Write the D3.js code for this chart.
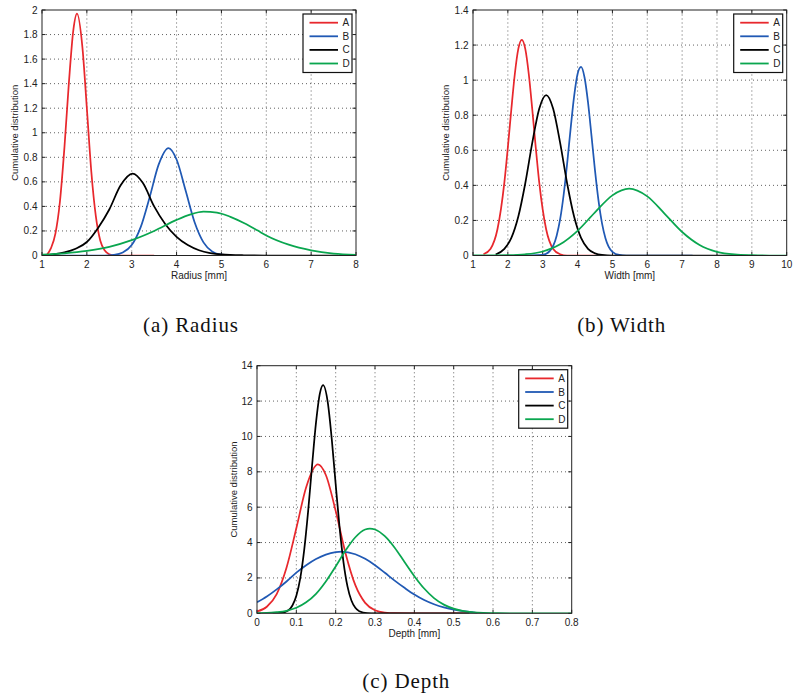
<!DOCTYPE html>
<html><head><meta charset="utf-8">
<script src="https://cdn.jsdelivr.net/npm/d3@7"></script>
<style>body{margin:0;background:#fff}svg{display:block}</style>
</head><body>
<svg id="chart" width="798" height="697"></svg>
<script>
// ---------- shared ----------
const seriesNames = ["A", "B", "C", "D"];
const seriesColors = ["#e8282d", "#2059b4", "#000000", "#0aa64f"];

// ---------- (a) Radius ----------
const radiusXTicks = [1, 2, 3, 4, 5, 6, 7, 8];
const radiusYTicks = [0, 0.2, 0.4, 0.6, 0.8, 1, 1.2, 1.4, 1.6, 1.8, 2];
const radiusA = [[1.1,0],[1.2,0.06],[1.3,0.18],[1.4,0.44],[1.5,0.88],[1.6,1.41],[1.7,1.84],[1.78,1.97],[1.9,1.70],[2.0,1.20],[2.1,0.68],[2.2,0.32],[2.3,0.12],[2.4,0.04],[2.5,0.01],[2.6,0],[3.5,0]];
const radiusB = [[1.0,0],[2.4,0],[2.6,0.005],[2.8,0.024],[3.0,0.085],[3.2,0.231],[3.4,0.475],[3.6,0.74],[3.82,0.875],[4.0,0.782],[4.2,0.531],[4.4,0.273],[4.6,0.107],[4.8,0.031],[5.0,0.007],[5.2,0.001],[5.25,0]];
const radiusC = [[1.0,0.003],[1.25,0.01],[1.5,0.025],[1.75,0.055],[2.0,0.11],[2.25,0.225],[2.5,0.375],[2.75,0.57],[3.02,0.667],[3.25,0.59],[3.5,0.4],[3.75,0.255],[4.0,0.152],[4.25,0.085],[4.5,0.043],[4.75,0.02],[5.0,0.009],[5.5,0.002],[6.0,0],[7.6,0]];
const radiusD = [[1.0,0.008],[1.5,0.018],[2.0,0.037],[2.5,0.07],[3.0,0.125],[3.5,0.2],[4.0,0.29],[4.3,0.333],[4.6,0.357],[4.9,0.35],[5.2,0.315],[5.5,0.265],[5.8,0.205],[6.0,0.163],[6.5,0.088],[7.0,0.042],[7.5,0.016],[8.0,0.005]];

// ---------- (b) Width ----------
const widthXTicks = [1, 2, 3, 4, 5, 6, 7, 8, 9, 10];
const widthYTicks = [0, 0.2, 0.4, 0.6, 0.8, 1, 1.2, 1.4];
const widthA = [[1.3,0.007],[1.5,0.037],[1.7,0.148],[1.9,0.417],[2.0,0.617],[2.1,0.834],[2.2,1.035],[2.3,1.178],[2.4,1.23],[2.5,1.178],[2.6,1.035],[2.7,0.834],[2.8,0.617],[2.9,0.417],[3.1,0.148],[3.3,0.037],[3.5,0.007],[3.7,0],[4.5,0]];
const widthB = [[2.2,0],[3.0,0.004],[3.2,0.025],[3.4,0.113],[3.5,0.207],[3.6,0.345],[3.7,0.523],[3.8,0.722],[3.9,0.906],[4.0,1.035],[4.1,1.075],[4.2,1.015],[4.3,0.873],[4.4,0.682],[4.5,0.485],[4.6,0.314],[4.7,0.185],[4.8,0.099],[5.0,0.021],[5.2,0.003],[5.4,0],[7.3,0]];
const widthC = [[1.65,0.006],[1.9,0.038],[2.1,0.1],[2.3,0.222],[2.5,0.412],[2.7,0.642],[2.9,0.837],[3.1,0.915],[3.3,0.837],[3.5,0.642],[3.7,0.412],[3.9,0.222],[4.1,0.1],[4.3,0.038],[4.5,0.012],[4.7,0.003],[5.0,0],[8.5,0]];
const widthD = [[1.0,0],[2.0,0.002],[2.5,0.007],[3.0,0.023],[3.5,0.064],[4.0,0.141],[4.5,0.246],[5.0,0.343],[5.48,0.381],[6.0,0.337],[6.5,0.238],[7.0,0.134],[7.5,0.06],[8.0,0.021],[8.5,0.006],[9.0,0.0015],[9.5,0],[10,0]];

// ---------- (c) Depth ----------
const depthXTicks = [0, 0.1, 0.2, 0.3, 0.4, 0.5, 0.6, 0.7, 0.8];
const depthYTicks = [0, 2, 4, 6, 8, 10, 12, 14];
const depthA = [[0,0.1],[0.025,0.37],[0.05,1.09],[0.075,2.58],[0.1,4.81],[0.125,7.13],[0.155,8.42],[0.175,7.82],[0.2,5.79],[0.225,3.4],[0.25,1.59],[0.275,0.59],[0.3,0.17],[0.325,0.04],[0.35,0.007],[0.4,0],[0.54,0]];
const depthB = [[0,0.62],[0.025,0.95],[0.05,1.35],[0.075,1.8],[0.1,2.3],[0.125,2.72],[0.15,3.07],[0.175,3.32],[0.2,3.46],[0.215,3.49],[0.25,3.34],[0.275,3.08],[0.3,2.72],[0.325,2.29],[0.35,1.85],[0.375,1.44],[0.4,1.06],[0.425,0.75],[0.45,0.51],[0.475,0.33],[0.5,0.21],[0.525,0.12],[0.55,0.05],[0.56,0]];
const depthC = [[0.04,0],[0.06,0.02],[0.08,0.17],[0.09,0.44],[0.1,0.99],[0.11,1.99],[0.12,3.59],[0.13,5.78],[0.14,8.35],[0.15,10.78],[0.16,12.45],[0.168,12.9],[0.18,11.91],[0.19,9.86],[0.2,7.3],[0.21,4.84],[0.22,2.87],[0.23,1.52],[0.24,0.72],[0.25,0.31],[0.26,0.12],[0.28,0.01],[0.3,0],[0.54,0]];
const depthD = [[0,0.015],[0.025,0.02],[0.05,0.06],[0.075,0.14],[0.1,0.31],[0.125,0.62],[0.15,1.1],[0.175,1.8],[0.2,2.65],[0.225,3.55],[0.25,4.3],[0.275,4.74],[0.287,4.79],[0.3,4.74],[0.325,4.36],[0.35,3.71],[0.375,2.9],[0.4,2.1],[0.425,1.4],[0.45,0.86],[0.475,0.49],[0.5,0.26],[0.525,0.12],[0.55,0.055],[0.575,0.02],[0.6,0.008],[0.65,0],[0.8,0]];

const svg = d3.select("#chart");
const sansFont = "'Liberation Sans', Arial, Helvetica, sans-serif";
const serifFont = "'Liberation Serif', 'Times New Roman', serif";
let clipId = 0;

function fmt(v) { return String(+v.toFixed(4)); }

function drawPanel(cfg) {
  const g = svg.append("g");
  const x = d3.scaleLinear().domain(d3.extent(cfg.xTicks)).range([cfg.l, cfg.r]);
  const y = d3.scaleLinear().domain(d3.extent(cfg.yTicks)).range([cfg.b, cfg.t]);
  const [x0, x1] = x.domain(), [y0, y1] = y.domain();

  // grid
  const grid = g.append("g").attr("stroke", "#3a3a3a").attr("stroke-width", 0.8)
    .attr("stroke-dasharray", "1,3");
  cfg.xTicks.filter(t => t > x0 && t < x1).forEach(t => {
    grid.append("line").attr("x1", x(t)).attr("x2", x(t)).attr("y1", cfg.b).attr("y2", cfg.t);
  });
  cfg.yTicks.filter(t => t > y0 && t < y1).forEach(t => {
    grid.append("line").attr("x1", cfg.l).attr("x2", cfg.r).attr("y1", y(t)).attr("y2", y(t));
  });

  // inward ticks on all four sides
  const tk = g.append("g").attr("stroke", "#222").attr("stroke-width", 1);
  const tl = 3.5;
  cfg.xTicks.forEach(t => {
    tk.append("line").attr("x1", x(t)).attr("x2", x(t)).attr("y1", cfg.b).attr("y2", cfg.b - tl);
    tk.append("line").attr("x1", x(t)).attr("x2", x(t)).attr("y1", cfg.t).attr("y2", cfg.t + tl);
  });
  cfg.yTicks.forEach(t => {
    tk.append("line").attr("x1", cfg.l).attr("x2", cfg.l + tl).attr("y1", y(t)).attr("y2", y(t));
    tk.append("line").attr("x1", cfg.r).attr("x2", cfg.r - tl).attr("y1", y(t)).attr("y2", y(t));
  });

  // curves
  const id = "clip" + (clipId++);
  svg.append("defs").append("clipPath").attr("id", id).append("rect")
    .attr("x", cfg.l).attr("y", cfg.t - 1).attr("width", cfg.r - cfg.l).attr("height", cfg.b - cfg.t + 1);
  const line = d3.line().x(d => x(d[0])).y(d => y(d[1])).curve(d3.curveMonotoneX);
  const lines = g.append("g").attr("clip-path", `url(#${id})`);
  cfg.series.forEach((s, i) => {
    lines.append("path").datum(s).attr("d", line).attr("fill", "none")
      .attr("stroke", seriesColors[i]).attr("stroke-width", 1.75)
      .attr("stroke-linejoin", "round");
  });

  // box
  g.append("rect").attr("x", cfg.l).attr("y", cfg.t).attr("width", cfg.r - cfg.l)
    .attr("height", cfg.b - cfg.t).attr("fill", "none").attr("stroke", "#222").attr("stroke-width", 1);

  // tick labels
  const lab = g.append("g").attr("font-family", sansFont).attr("font-size", 10).attr("fill", "#222");
  cfg.xTicks.forEach(t => {
    lab.append("text").attr("x", x(t)).attr("y", cfg.b + 12.5).attr("text-anchor", "middle").text(fmt(t));
  });
  cfg.yTicks.forEach(t => {
    lab.append("text").attr("x", cfg.l - 4.5).attr("y", y(t)).attr("dy", "0.35em")
      .attr("text-anchor", "end").text(fmt(t));
  });

  // axis titles
  g.append("text").attr("x", (cfg.l + cfg.r) / 2).attr("y", cfg.b + 23.5)
    .attr("text-anchor", "middle").attr("font-family", sansFont).attr("font-size", 10)
    .attr("fill", "#222").text(cfg.xLabel);
  const ycx = cfg.l - cfg.yLabelOff, ycy = (cfg.t + cfg.b) / 2;
  g.append("text").attr("transform", `translate(${ycx},${ycy}) rotate(-90)`)
    .attr("dy", "0.35em").attr("text-anchor", "middle").attr("font-family", sansFont)
    .attr("font-size", 9.5).attr("fill", "#222").text("Cumulative distribution");

  // legend
  const lw = 49, lh = 58.5;
  const lx = cfg.r - 4 - lw, ly = cfg.t + 4;
  const lg = g.append("g");
  lg.append("rect").attr("x", lx).attr("y", ly).attr("width", lw).attr("height", lh)
    .attr("fill", "#fff").attr("stroke", "#111").attr("stroke-width", 1.2);
  seriesNames.forEach((n, i) => {
    const yy = ly + 8.7 + i * 13.6;
    lg.append("line").attr("x1", lx + 6.5).attr("x2", lx + 35).attr("y1", yy).attr("y2", yy)
      .attr("stroke", seriesColors[i]).attr("stroke-width", 1.8);
    lg.append("text").attr("x", lx + 39.5).attr("y", yy).attr("dy", "0.35em")
      .attr("font-family", sansFont).attr("font-size", 10).attr("fill", "#222").text(n);
  });

  // caption
  svg.append("text").attr("x", cfg.capX).attr("y", cfg.capY).attr("text-anchor", "middle")
    .attr("font-family", serifFont).attr("font-size", 21).attr("letter-spacing", "0.9px")
    .attr("fill", "#111").text(cfg.caption);
}

drawPanel({ l: 42, r: 356, t: 10, b: 255.5, xTicks: radiusXTicks, yTicks: radiusYTicks,
  series: [radiusA, radiusB, radiusC, radiusD], xLabel: "Radius [mm]", yLabelOff: 27,
  caption: "(a) Radius", capX: 191, capY: 331.5 });
drawPanel({ l: 473, r: 786.7, t: 10, b: 255.5, xTicks: widthXTicks, yTicks: widthYTicks,
  series: [widthA, widthB, widthC, widthD], xLabel: "Width [mm]", yLabelOff: 27,
  caption: "(b) Width", capX: 621.7, capY: 331.5 });
drawPanel({ l: 257, r: 571.7, t: 365.7, b: 613.3, xTicks: depthXTicks, yTicks: depthYTicks,
  series: [depthA, depthB, depthC, depthD], xLabel: "Depth [mm]", yLabelOff: 23,
  caption: "(c) Depth", capX: 406.3, capY: 688.3 });
</script>
</body></html>
